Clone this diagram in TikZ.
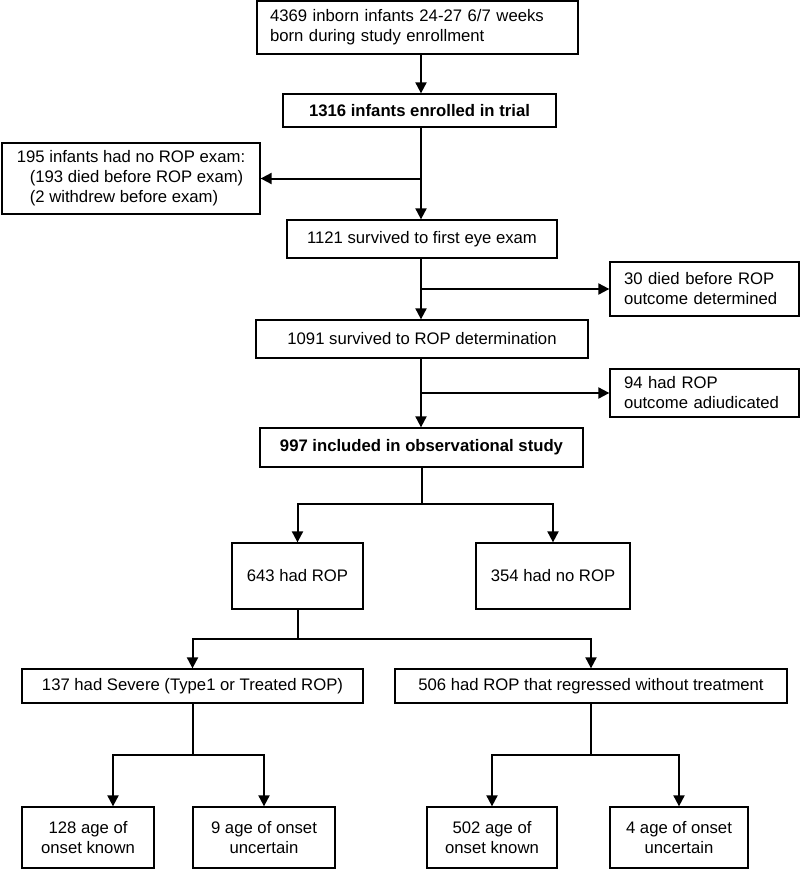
\documentclass[tikz,border=0pt]{standalone}
\usepackage{fontspec}
\setmainfont{Liberation Sans}
\usepackage{tikz}
\usetikzlibrary{positioning}
\usetikzlibrary{arrows.meta}
\usetikzlibrary{calc}
\tikzstyle{line} = [draw, line width=2pt, -{Triangle[length=11pt, width=11pt]}]

\begin{document}
\begin{tikzpicture}[x=1pt, y=-1pt,
			internal/.style={draw, rectangle, line width=1.3pt, inner sep=0pt, align=center,
				font=\fontsize{16.7}{20}\selectfont},
			leftbox/.style={internal, align=left, inner xsep=13pt}]
			\useasboundingbox (0,0) rectangle (800,870);
			\coordinate (axis) at (421,0);

			\node[leftbox, text width=295pt, minimum height=53pt](born) at (417.5,27.5) {4369 inborn infants 24-27 6/7 weeks\\born during study enrollment};
			\node[internal, minimum width=273pt, minimum height=33pt](enrolled) at (419.5,110.5) {\bfseries 1316 infants enrolled in trial};
			\node[internal, align=left, minimum width=258pt, minimum height=71pt](noexam) at (131,178.5) {195 infants had no ROP exam:\\\hspace*{13pt}(193 died before ROP exam)\\\hspace*{13pt}(2 withdrew before exam)};
			\node[internal, minimum width=270pt, minimum height=38pt](firstexam) at (422,239) {1121 survived to first eye exam};
			\node[leftbox, inner xsep=14pt, text width=161pt, minimum height=54pt](died) at (704.5,289) {30 died before ROP\\outcome determined};
			\node[internal, minimum width=332pt, minimum height=38pt](ropdet) at (422,339) {1091 survived to ROP determination};
			\node[leftbox, inner xsep=14pt, text width=161pt, minimum height=48pt](adjud) at (704.5,393) {94 had ROP\\outcome adiudicated};
			\node[internal, minimum width=323pt, minimum height=39pt](obs) at (421.5,447.5) {\bfseries 997 included in observational study};

			\node[internal, minimum width=131pt, minimum height=66pt](rop) at (297.5,576) {643 had ROP};
			\node[internal, minimum width=154pt, minimum height=66pt](norop) at (553,576) {354 had no ROP};

			\node[internal, minimum width=341pt, minimum height=34pt](severe) at (192.5,686) {137 had Severe (Type1 or Treated ROP)};
			\node[internal, minimum width=392pt, minimum height=34pt](regressed) at (591,686) {506 had ROP that regressed without treatment};

			\node[internal, minimum width=132pt, minimum height=61pt](sevknown) at (88,837.5) {128 age of\\onset known};
			\node[internal, minimum width=142pt, minimum height=61pt](sevunc) at (264,837.5) {9 age of onset\\uncertain};
			\node[internal, minimum width=130pt, minimum height=61pt](regknown) at (492,837.5) {502 age of\\onset known};
			\node[internal, minimum width=138pt, minimum height=61pt](regunc) at (679,837.5) {4 age of onset\\uncertain};

			% main column
			\draw[line] (born.south -| axis) -- (enrolled.north -| axis);
			\draw[line] (enrolled.south -| axis) -- (firstexam.north -| axis);
			\draw[line] (axis |- noexam.east) -- (noexam.east);
			\draw[line] (firstexam.south -| axis) -- (ropdet.north -| axis);
			\draw[line] (axis |- died.west) -- (died.west);
			\draw[line] (ropdet.south -| axis) -- (obs.north -| axis);
			\draw[line] (axis |- adjud.west) -- (adjud.west);

			% splits
			\coordinate (split1) at (421.5,504);
			\draw[line] (obs.south) -- (split1) -| (rop.north);
			\draw[line] (split1) -| (norop.north);

			\coordinate (split2) at (297.5,639);
			\draw[line] (rop.south) -- (split2) -| (severe.north);
			\draw[line] (split2) -| (regressed.north);

			\coordinate (split3) at (192.5,755);
			\draw[line] (severe.south) -- (split3) -| ([xshift=25pt]sevknown.north);
			\draw[line] (split3) -| (sevunc.north);

			\coordinate (split4) at (591,755);
			\draw[line] (regressed.south) -- (split4) -| (regknown.north);
			\draw[line] (split4) -| (regunc.north);

		\end{tikzpicture}
\end{document}
